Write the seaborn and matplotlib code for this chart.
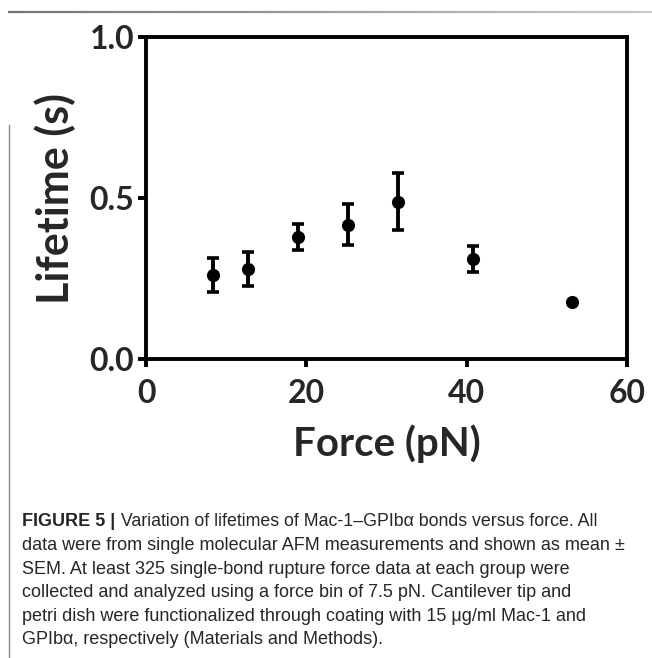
import numpy as np
import pandas as pd
import matplotlib
matplotlib.use("Agg")
import matplotlib.pyplot as plt
import seaborn as sns
from matplotlib.lines import Line2D
from matplotlib.collections import LineCollection

# datos (media +- SEM)
force = [8.4, 12.7, 18.9, 25.2, 31.4, 40.8, 53.2]
lifetime = [0.26, 0.28, 0.378, 0.417, 0.489, 0.31, 0.178]
sem = [0.053, 0.052, 0.041, 0.063, 0.088, 0.041, np.nan]

x_ticks = [0, 20, 40, 60]
y_ticks = [0.0, 0.5, 1.0]
y_tick_labels = ["0.0", "0.5", "1.0"]

caption_bold = "FIGURE 5 |"
caption_first = " Variation of lifetimes of Mac-1–GPIbα bonds versus force. All"
caption_rest = [
    "data were from single molecular AFM measurements and shown as mean ±",
    "SEM. At least 325 single-bond rupture force data at each group were",
    "collected and analyzed using a force bin of 7.5 pN. Cantilever tip and",
    "petri dish were functionalized through coating with 15 μg/ml Mac-1 and",
    "GPIbα, respectively (Materials and Methods).",
]

df = pd.DataFrame({"force": force, "lifetime": lifetime, "sem": sem})

sns.set_theme(style="ticks")
plt.rcParams["font.family"] = ["Lato", "DejaVu Sans"]

W, H = 652, 658
fig = plt.figure(figsize=(W / 100, H / 100), dpi=100)
ax = fig.add_axes([146 / W, 1 - 359 / H, (627 - 146) / W, (359 - 37) / H])

con_err = df.dropna(subset=["sem"])
ax.errorbar(con_err["force"], con_err["lifetime"], yerr=con_err["sem"], fmt="none",
            ecolor="black", elinewidth=2.8, capsize=4.6, capthick=2.6, zorder=2)
sns.scatterplot(data=df, x="force", y="lifetime", ax=ax, color="black", s=90,
                edgecolor="black", linewidth=0, zorder=3, legend=False)

ax.set_xlim(0, 60)
ax.set_ylim(0, 1.0)
ax.set_xticks(x_ticks)
ax.set_yticks(y_ticks)
ax.set_yticklabels(y_tick_labels)
for s in ax.spines.values():
    s.set_linewidth(2.8)
    s.set_color("black")
ax.tick_params(axis="both", length=5.5, width=2.8, color="black", labelsize=23)
ax.tick_params(axis="x", pad=9)
ax.tick_params(axis="y", pad=3)
for lab in ax.get_xticklabels() + ax.get_yticklabels():
    lab.set_fontweight("bold")
ax.set_xlabel("Force (pN)", fontsize=29, fontweight="bold", labelpad=12)
ax.set_ylabel("Lifetime (s)", fontsize=31, fontweight="bold", labelpad=10)

# marco gris de la pagina
n = 60
xs = np.linspace(8 / W, 1, n + 1)
yt = 1 - 12 / H
segs = [[(xs[i], yt), (xs[i + 1], yt)] for i in range(n)]
cols = [plt.cm.Greys(0.62 - 0.3 * i / n) for i in range(n)]
fig.add_artist(LineCollection(segs, colors=cols, linewidths=1.6, transform=fig.transFigure))
fig.add_artist(Line2D([9 / W, 9 / W], [0, 1 - 125 / H], color="#8a8a8a", linewidth=1.0,
                      transform=fig.transFigure))

# leyenda de la figura
y0 = 1 - 522 / H
paso = 23.6 / H
t = fig.text(22 / W, y0, caption_bold, fontsize=13, fontweight="bold",
             family=["Liberation Sans Narrow", "Liberation Sans"], va="center")
fig.canvas.draw()
bb = t.get_window_extent()
fig.text(bb.x1 / W + 1 / W, y0, caption_first, fontsize=12.8,
         family=["Liberation Sans Narrow", "Liberation Sans"], va="center")
for i, line in enumerate(caption_rest):
    fig.text(22 / W, y0 - (i + 1) * paso, line, fontsize=13,
             family=["Liberation Sans", "DejaVu Sans"], va="center")

fig.savefig("out.png", dpi=100)
